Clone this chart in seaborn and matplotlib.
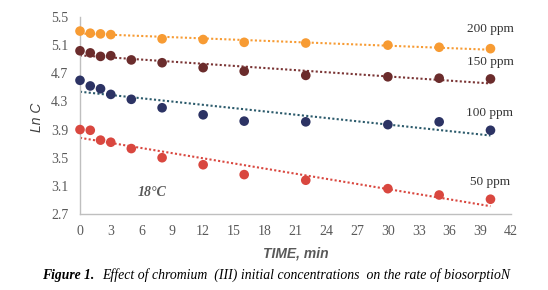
import matplotlib
matplotlib.use("Agg")
import matplotlib.pyplot as plt
import numpy as np
import pandas as pd
import seaborn as sns

# time, min
time = [0, 1, 2, 3, 5, 8, 12, 16, 22, 30, 35, 40]

# Ln C for each initial concentration
ppm_200 = [5.30, 5.27, 5.26, 5.25, None, 5.19, 5.18, 5.14, 5.13, 5.10, 5.07, 5.05]
ppm_150 = [5.02, 4.99, 4.94, 4.95, 4.89, 4.85, 4.78, 4.73, 4.67, 4.65, 4.63, 4.62]
ppm_100 = [4.60, 4.52, 4.48, 4.40, 4.33, 4.21, 4.11, 4.02, 4.01, 3.97, 4.01, 3.89]
ppm_50 = [3.90, 3.89, 3.75, 3.72, 3.63, 3.50, 3.40, 3.26, 3.18, 3.06, 2.97, 2.91]

series = ["200 ppm", "150 ppm", "100 ppm", "50 ppm"]
values = [ppm_200, ppm_150, ppm_100, ppm_50]
marker_colors = ["#F79B33", "#6B2C2C", "#2C3364", "#D9473F"]
line_colors = ["#F79B33", "#7A3434", "#2B5A6B", "#D9473F"]

W, H = 548, 290

def px(x, y):
    # figure pixel (from top-left) -> figure fraction
    return x / W, 1 - y / H

rows = []
for name, vals in zip(series, values):
    for t, v in zip(time, vals):
        if v is not None:
            rows.append({"time": t, "lnc": v, "conc": name})
df = pd.DataFrame(rows)

sns.set_style("white")
fig = plt.figure(figsize=(5.48, 2.90), dpi=100)
ax = fig.add_axes([80 / W, 1 - 214 / H, 431 / W, 197 / H])

for name, mc, lc in zip(series, marker_colors, line_colors):
    d = df[df["conc"] == name]
    sns.regplot(data=d, x="time", y="lnc", ax=ax, ci=None, scatter=False,
                line_kws={"color": lc, "linestyle": (0, (1, 1.1)), "linewidth": 1.5})

sns.scatterplot(data=df, x="time", y="lnc", hue="conc", palette=marker_colors,
                hue_order=series, s=48, linewidth=0, ax=ax, legend=False,
                zorder=3, clip_on=False)

ax.set_xlim(0, 42)
ax.set_ylim(2.7, 5.5)
ax.set_xticks(np.arange(0, 43, 3))
ax.set_yticks(np.arange(2.7, 5.51, 0.4))
ax.set_yticklabels(["%.1f" % v for v in np.arange(2.7, 5.51, 0.4)])
ax.set_xlabel("")
ax.set_ylabel("")

for s in ["top", "right"]:
    ax.spines[s].set_visible(False)
for s in ["left", "bottom"]:
    ax.spines[s].set_color("#BFBFBF")
    ax.spines[s].set_linewidth(1)
ax.tick_params(axis="both", which="both", direction="out", length=5, width=1,
               color="#BFBFBF", labelcolor="#595959", labelsize=10)
ax.tick_params(axis="x", pad=3)
for lab in ax.get_xticklabels() + ax.get_yticklabels():
    lab.set_family("Liberation Serif")

fig.text(*px(296, 254), "TIME, min", fontsize=10, style="italic",
         fontweight="bold", color="#595959", family="Liberation Sans",
         ha="center", va="center")
fig.text(*px(37, 117), "Ln C", fontsize=10, style="italic", color="#404040",
         family="Liberation Sans", rotation=90, ha="center", va="center")

label_px = [(490, 29), (490, 62), (490, 113), (490, 182)]
for name, (lx, ly) in zip(series, label_px):
    fig.text(*px(lx, ly), name, fontsize=9.5, color="#333333",
             family="Liberation Serif", ha="center", va="center")

fig.text(*px(152, 192), "18°C", fontsize=10, style="italic",
         fontweight="bold", color="#595959", family="Liberation Serif",
         ha="center", va="center")

fig.text(*px(42, 275), "Figure 1.", fontsize=9.8, style="italic",
         fontweight="bold", family="Liberation Serif", color="black",
         va="center")
fig.text(*px(102, 275),
         "Effect of chromium  (III) initial concentrations  on the rate of biosorptioN",
         fontsize=9.9, style="italic", family="Liberation Serif", color="black",
         va="center")

fig.savefig("out.png", dpi=100)
